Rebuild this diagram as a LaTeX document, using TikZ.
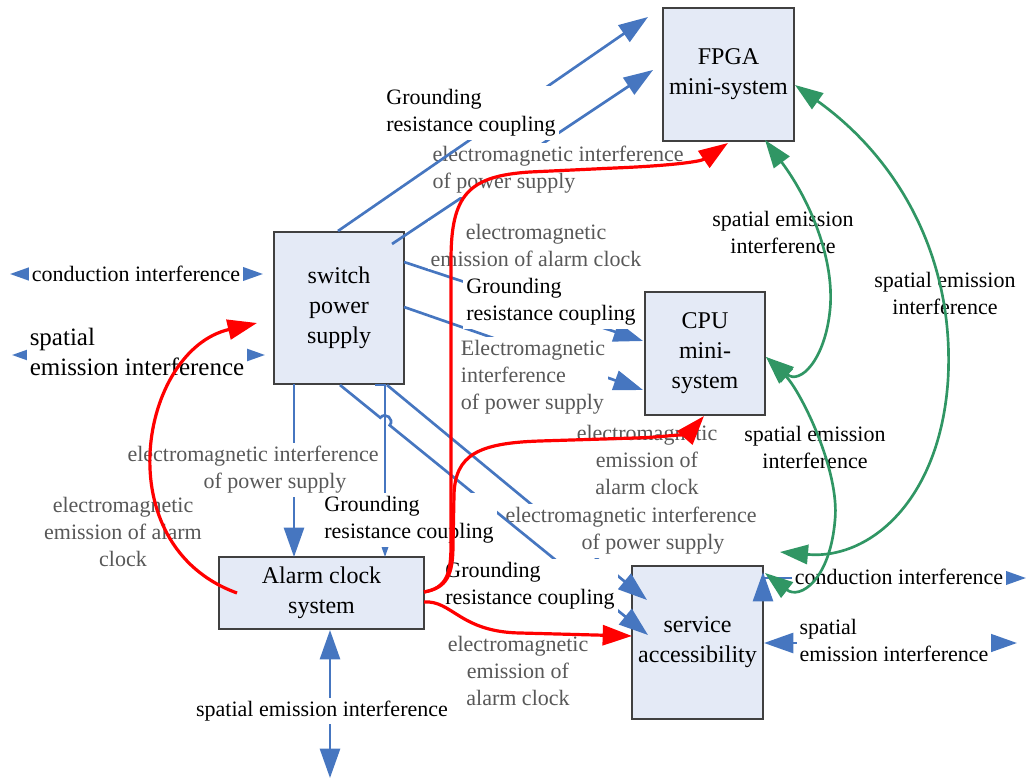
\documentclass[tikz,border=0pt]{standalone}
\usepackage{fontspec}
\setmainfont{Liberation Serif}
\usetikzlibrary{arrows.meta}
\definecolor{cblue}{RGB}{70,118,192}
\definecolor{cgreen}{RGB}{48,150,100}
\definecolor{cred}{RGB}{255,0,0}
\definecolor{cfill}{RGB}{228,234,246}
\definecolor{cedge}{RGB}{64,64,64}
\definecolor{cgray}{RGB}{88,88,88}
\tikzset{
  BT/.tip={Triangle[length=22pt,width=15pt]},
  RT/.tip={Triangle[length=22pt,width=15pt]},
  GT/.tip={Triangle[length=21pt,width=14.5pt]},
}
\begin{document}
\begin{tikzpicture}[x=0.75pt,y=-0.75pt,
  box/.style={draw=cedge, line width=0.8pt, fill=cfill, align=center,
    font=\fontsize{18}{22.5}\selectfont, inner sep=0pt},
  lbl/.style={fill=white, inner sep=2.25pt, font=\fontsize{16.5}{20.25}\selectfont, text=black},
  glbl/.style={lbl, text=cgray},
  bigl/.style={lbl, font=\fontsize{18.75}{22.5}\selectfont},
  bl/.style={draw=cblue, line width=2pt},
  rd/.style={draw=cred, line width=2.4pt},
  gr/.style={draw=cgreen, line width=2pt},
]
\useasboundingbox (0,0) rectangle (1028,780);

% boxes
\node[box, minimum width=98.25pt, minimum height=99.75pt] (fpga) at (728.5,74.5) {FPGA\\mini-system};
\node[box, minimum width=97.5pt, minimum height=114pt] (sw) at (339,308) {switch\\power\\supply};
\node[box, minimum width=90pt, minimum height=92.25pt] (cpu) at (705,353.5) {CPU\\mini-\\system};
\node[box, minimum width=153.75pt, minimum height=54pt] (alarm) at (321.5,593) {Alarm clock\\system};
\node[box, minimum width=98.25pt, minimum height=114.75pt] (svc) at (697.5,642.5) {service\\accessibility};

% coordinates
\coordinate (p1s) at (338,231); \coordinate (p1e) at (648,17);
\coordinate (p2s) at (392,244); \coordinate (p2e) at (653,70);
\coordinate (p3s) at (404,262); \coordinate (p3e) at (643,341);
\coordinate (p4s) at (404,307); \coordinate (p4e) at (643,390);
\coordinate (p5s) at (294,384); \coordinate (p5e) at (294,557);
\coordinate (p6a) at (375,385); \coordinate (p6s) at (385,385); \coordinate (p6e) at (385,557);
\coordinate (d2s) at (387,385); \coordinate (d2e) at (647,600);
\coordinate (d1s) at (340,385); \coordinate (h1) at (380.3,417.7); \coordinate (h2) at (389.7,425.3); \coordinate (d1e) at (648,635);
\coordinate (lc1) at (10,274); \coordinate (lc2) at (263,274);
\coordinate (ls1) at (12,355); \coordinate (ls2) at (265,355);
\coordinate (bs1) at (330,630); \coordinate (bs2) at (330,778);
\coordinate (rc0) at (763,572); \coordinate (rc1) at (763,578); \coordinate (rc2) at (1026,578);
\coordinate (rs1) at (764,643); \coordinate (rs2) at (1017,643);

% blue connectors (below labels)
\draw[bl, -BT] (p2s) -- (p2e);
\draw[bl, -BT] (p3s) -- (p3e);
\draw[bl, -BT] (p4s) -- (p4e);
\draw[bl, -BT] (p5s) -- (p5e);
\draw[bl, -BT] (p6a) -- (p6s) -- (p6e);
\draw[bl, -BT] (d2s) -- (d2e);
\draw[bl, BT-BT] (lc1) -- (lc2);
\draw[bl, BT-BT] (ls1) -- (ls2);
\draw[bl, BT-BT] (bs1) -- (bs2);
\draw[bl, BT-BT] (rc0) -- (rc1) -- (rc2);
\draw[bl, BT-BT] (rs1) -- (rs2);

% labels
\node[glbl, align=left] (l2) at (558,170) {electromagnetic interference\\of power supply};
\node[glbl, align=center] (l3) at (536,245) {electromagnetic\\emission of alarm clock};
\node[lbl, align=left] (l4) at (551,302) {Grounding\\resistance coupling};
\node[glbl, align=left] (l5) at (533,377) {Electromagnetic\\interference\\of power supply};
\node[glbl, align=center] (l6) at (647,460) {electromagnetic\\emission of\\alarm clock};
\node[lbl, align=center] (l7) at (783,232) {spatial emission\\interference};
\node[lbl, align=center] (l8) at (945,293) {spatial emission\\interference};
\node[lbl, align=center] (l9) at (815,447) {spatial emission\\interference};
\node[lbl] (l10) at (136,274) {conduction interference};
\node[bigl, align=left] (l11) at (137,352) {spatial\\emission interference};
\node[glbl, align=left] (l12) at (253,470) {electromagnetic interference\\\hspace*{57pt}of power supply};
\node[glbl, align=center] (l13) at (123,532) {electromagnetic\\emission of alarm\\clock};
\node[glbl, align=left] (l15) at (631,531) {electromagnetic interference\\\hspace*{57pt}of power supply};
\node[glbl, align=center] (l17) at (518,671) {electromagnetic\\emission of\\alarm clock};
\node[lbl] (l18) at (322,711) {spatial emission interference};
\node[lbl] (l19) at (899,577) {conduction interference};
\node[lbl, align=left] (l20) at (894,640) {spatial\\emission interference};

% blue connectors drawn above some labels
\draw[bl, -BT] (p1s) -- (p1e);
\draw[bl, -BT] (d1s) -- (h1) .. controls (385.3,411.5) and (394.7,419.1) .. (h2) -- (d1e);

\node[lbl, align=left] (l1) at (471,113) {Grounding\\resistance coupling};
\node[lbl, align=left] (l14) at (409,520) {Grounding\\resistance coupling};
\node[lbl, align=left] (l16) at (530,586) {Grounding\\resistance coupling};

% red connectors
\draw[rd, -RT] (424,592) .. controls (446,588) and (451,575) .. (451,545) -- (451,260)
  .. controls (451,195) and (468,176) .. (530,172) -- (615,168)
  .. controls (665,166) and (700,162) .. (728,143);
\draw[rd, -RT] (424,592) .. controls (447,588) and (453,575) .. (453,545) -- (454,495)
  .. controls (455,455) and (478,443) .. (540,441) -- (635,438)
  .. controls (670,437) and (690,432) .. (704,416);
\draw[rd, -RT] (424,602) .. controls (452,600) and (460,632) .. (520,633) -- (632,636);
\draw[rd, -RT] (237,593) .. controls (105,545) and (140,350) .. (257,323);

% green connectors
\draw[gr, GT-GT] (765,140) .. controls (810,200) and (835,260) .. (830,310)
  .. controls (825,360) and (800,385) .. (766,357);
\draw[gr, GT-GT] (795,85) .. controls (900,160) and (955,260) .. (948,380)
  .. controls (940,500) and (870,560) .. (780,552);
\draw[gr, GT-GT] (766,357) .. controls (800,390) and (840,470) .. (835,520)
  .. controls (830,580) and (800,600) .. (765,573);
\end{tikzpicture}
\end{document}
